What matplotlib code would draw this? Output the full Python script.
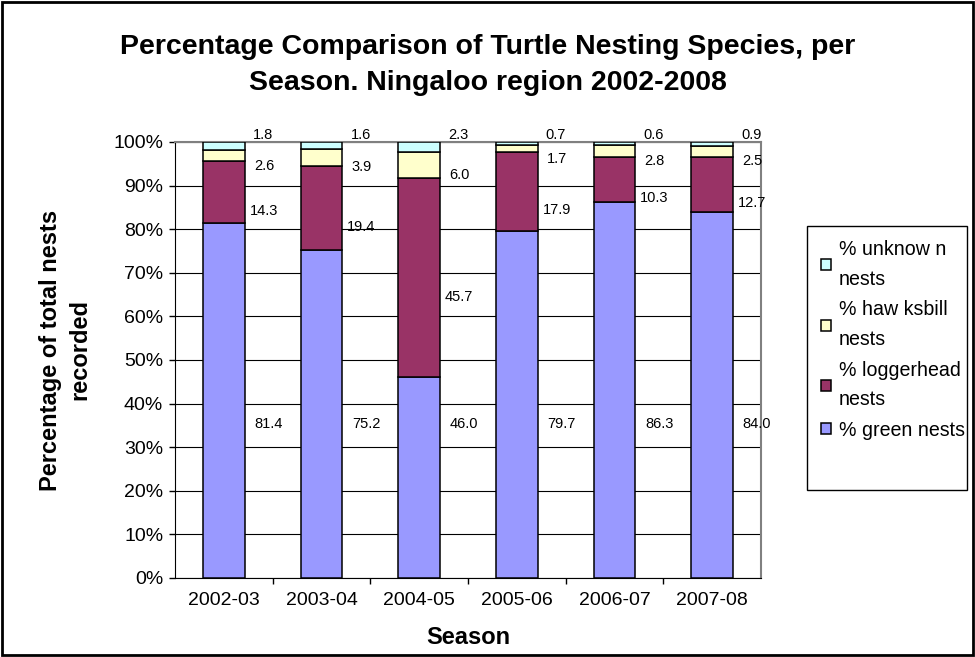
import numpy as np
import matplotlib
matplotlib.use('Agg')
import matplotlib.pyplot as plt
from matplotlib.patches import Rectangle

plt.rcParams['font.family'] = ['Liberation Sans', 'DejaVu Sans']

# Data
seasons = ['2002-03', '2003-04', '2004-05', '2005-06', '2006-07', '2007-08']
green = [81.4, 75.2, 46.0, 79.7, 86.3, 84.0]
loggerhead = [14.3, 19.4, 45.7, 17.9, 10.3, 12.7]
hawksbill = [2.6, 3.9, 6.0, 1.7, 2.8, 2.5]
unknown = [1.8, 1.6, 2.3, 0.7, 0.6, 0.9]

series = [green, loggerhead, hawksbill, unknown]
names = ['% green nests', '% loggerhead\nnests', '% haw ksbill\nnests', '% unknow n\nnests']
colors = ['#9999FF', '#993366', '#FFFFCC', '#CCFFFF']

W, H = 975, 657
fig = plt.figure(figsize=(W / 100, H / 100), dpi=100)
ax = fig.add_axes([175 / W, 1 - 578 / H, 586 / W, 436 / H])

x = np.arange(len(seasons))
vals = np.array(series, dtype=float)
pct = vals / vals.sum(axis=0) * 100  # 100% stacked

bottom = np.zeros(len(seasons))
handles = []
for i in range(len(series)):
    b = ax.bar(x, pct[i], 0.425, bottom=bottom, color=colors[i],
               edgecolor='black', linewidth=1.1, zorder=3)
    handles.append(b)
    # value labels to the right of each bar
    for j in range(len(seasons)):
        if i == 0:
            ly, dx = 35.3, 0.46
        elif i == 1:
            ly, dx = bottom[j] + pct[i][j] / 2 - 4.3, 0.41
        elif i == 2:
            ly, dx = bottom[j] + pct[i][j] / 2 - 2.3, 0.41
        else:
            ly, dx = 101.5, 0.40
        ax.text(x[j] + dx, ly, f'{series[i][j]:.1f}', ha='center', va='center',
                fontsize=10.5, clip_on=False, zorder=4)
    bottom += pct[i]

ax.set_xlim(-0.5, len(seasons) - 0.5)
ax.set_ylim(0, 100)
ax.set_yticks(np.arange(0, 101, 10))
ax.set_yticklabels([f'{v}%' for v in range(0, 101, 10)], fontsize=14)
ax.set_xticks(x)
ax.set_xticklabels(seasons, fontsize=14)
ax.set_xticks(np.arange(0.5, len(seasons) - 0.5, 1), minor=True)
ax.tick_params(axis='x', which='major', length=0, pad=10)
ax.tick_params(axis='x', which='minor', length=4, direction='out', width=1)
ax.tick_params(axis='y', length=4.5, direction='out', pad=4, width=1)

ax.yaxis.grid(True, color='black', linewidth=0.8, zorder=0)
for side in ['top', 'right']:
    ax.spines[side].set_color('#808080')
    ax.spines[side].set_linewidth(1.5)
ax.spines['left'].set_color('black')
ax.spines['bottom'].set_color('black')

fig.text(468 / W, 1 - 638 / H, 'Season', ha='center', va='center',
         fontsize=17, fontweight='bold')
fig.text(65 / W, 1 - 350 / H, 'Percentage of total nests\nrecorded', ha='center', va='center',
         rotation=90, fontsize=17, fontweight='bold', linespacing=1.35)

fig.text(0.5, 1 - 65 / H, 'Percentage Comparison of Turtle Nesting Species, per\nSeason. Ningaloo region 2002-2008',
         ha='center', va='center', fontsize=20.5, fontweight='bold', linespacing=1.45)

# legend box and entries
fig.patches.append(Rectangle((807 / W, 1 - 490 / H), 160 / W, 264 / H, transform=fig.transFigure,
                             fill=False, edgecolor='black', linewidth=1))
leg = fig.legend(handles[::-1], names[::-1], loc='upper left',
                 bbox_to_anchor=(807 / W, 1 - 226 / H), fontsize=14.1,
                 frameon=False, handlelength=0.5, handleheight=0.5, handletextpad=0.4,
                 labelspacing=0.6, borderpad=0.72, borderaxespad=0)
for t in leg.get_texts():
    t.set_linespacing(1.7)

# outer chart border
fig.patches.append(Rectangle((0.002, 0.003), 0.996, 0.994, transform=fig.transFigure,
                             fill=False, edgecolor='black', linewidth=2))

fig.savefig('out.png', dpi=100)
